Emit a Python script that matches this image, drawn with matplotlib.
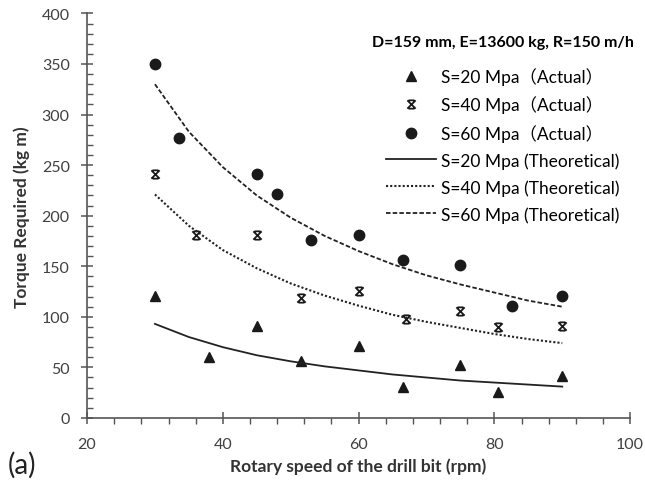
#!/usr/bin/env python3
import numpy as np
import matplotlib
matplotlib.use("Agg")
import matplotlib.pyplot as plt
from matplotlib.path import Path
from matplotlib.ticker import MultipleLocator

plt.rcParams['font.family'] = ['Lato', 'Noto Sans CJK SC', 'DejaVu Sans']

# measured points
rpm_20 = [30, 38, 45, 51.5, 60, 66.5, 75, 80.5, 90]
tq_20 = [121, 60, 91, 56, 71, 31, 52, 26, 41]
rpm_40 = [30, 36, 45, 51.5, 60, 67, 75, 80.5, 90]
tq_40 = [241, 181, 181, 119, 126, 98, 106, 90, 91]
rpm_60 = [30, 33.6, 45, 48, 53, 60, 66.6, 75, 82.6, 90]
tq_60 = [350, 277, 241, 221, 176, 181, 156, 151, 111, 121]

# theoretical curves, read every 5 rpm
rpm_th = [30, 35, 40, 45, 50, 55, 60, 65, 70, 75, 80, 85, 90]
th_20 = [93, 80, 70, 62, 56, 51, 47, 43, 40, 37, 35, 33, 31]
th_40 = [221, 190, 166, 148, 133, 121, 111, 102, 95, 89, 83, 78, 74]
th_60 = [330, 283, 248, 220, 198, 180, 165, 152, 141, 132, 124, 116, 110]

# x with flat bars top and bottom (excel-ish star)
star = Path([(-1, -1), (1, 1), (-1, 1), (1, -1), (-0.7, 1), (0.7, 1), (-0.7, -1), (0.7, -1)],
            [Path.MOVETO, Path.LINETO, Path.MOVETO, Path.LINETO,
             Path.MOVETO, Path.LINETO, Path.MOVETO, Path.LINETO])

fig = plt.figure(figsize=(6.45, 4.81), dpi=100)
ax = fig.add_axes([0.135, 0.129, 0.842, 0.841])

c = '#1a1a1a'
ax.plot(rpm_20, tq_20, ls='none', marker='^', ms=7.5, color=c, label='S=20 Mpa（Actual）')
ax.plot(rpm_40, tq_40, ls='none', marker=star, ms=6, mew=1.3, color=c, label='S=40 Mpa（Actual）')
ax.plot(rpm_60, tq_60, ls='none', marker='o', ms=7.5, color=c, label='S=60 Mpa（Actual）')
ax.plot(rpm_th, th_20, ls='-', lw=1.3, color='#222222', label='S=20 Mpa (Theoretical)')
ax.plot(rpm_th, th_40, ls=(0, (1, 1)), lw=1.5, color='#222222', label='S=40 Mpa (Theoretical)')
ax.plot(rpm_th, th_60, ls=(0, (2.5, 1.2)), lw=1.3, color='#222222', label='S=60 Mpa (Theoretical)')

ax.set_xlim(20, 100)
ax.set_ylim(0, 400)
ax.xaxis.set_major_locator(MultipleLocator(20))
ax.xaxis.set_minor_locator(MultipleLocator(4))
ax.yaxis.set_major_locator(MultipleLocator(50))
ax.yaxis.set_minor_locator(MultipleLocator(10))

axc = '#555555'
for s in ['top', 'right']:
    ax.spines[s].set_visible(False)
for s in ['left', 'bottom']:
    ax.spines[s].set_color(axc)
    ax.spines[s].set_linewidth(1.2)
ax.tick_params(which='major', direction='inout', length=9, width=1.1, color=axc,
               labelsize=11.5, labelcolor='#404040')
ax.tick_params(axis='x', which='major', pad=9)
ax.tick_params(axis='y', which='major', pad=8)
ax.tick_params(axis='x', which='minor', direction='out', length=4, width=1, color=axc)
ax.tick_params(axis='y', which='minor', direction='in', length=4, width=1, color=axc)

ax.set_xlabel('Rotary speed of the drill bit (rpm)', fontsize=12.5, fontweight='bold',
              color='#333333', labelpad=5)
ax.set_ylabel('Torque Required (kg m)', fontsize=12.5, fontweight='bold',
              color='#333333', labelpad=8)

leg = ax.legend(loc='upper right', bbox_to_anchor=(1.035, 0.985), frameon=False, fontsize=12.5,
                title='D=159 mm, E=13600 kg, R=150 m/h', handlelength=2.9, labelspacing=0.6,
                handletextpad=0.3)
leg.get_title().set_fontweight('bold')
leg.get_title().set_fontsize(11.5)
leg._legend_box.sep = 13

fig.text(0.012, 0.016, '(a)', fontsize=20, color='#222222')

fig.savefig('out.png', dpi=100)
